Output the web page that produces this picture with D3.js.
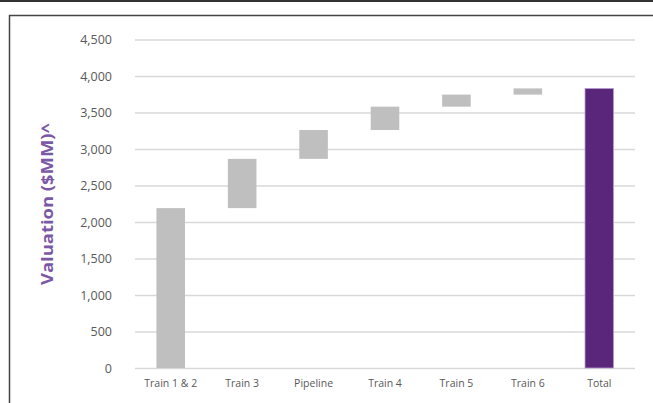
<!DOCTYPE html>
<html>
  <head>
    <title>Valuation waterfall</title>
    <script src="https://cdn.jsdelivr.net/npm/d3@7"></script>
    <style>
      body { margin: 0; background: #fff; }
    </style>
  </head>
  <body>
    <svg width="653" height="403" id="mainsvg"></svg>
    <script>
        // data
        const categories = ['Train 1 & 2', 'Train 3', 'Pipeline', 'Train 4', 'Train 5', 'Train 6', 'Total'];
        const increments = [2190, 675, 395, 320, 165, 85];
        const yTicks = [0, 500, 1000, 1500, 2000, 2500, 3000, 3500, 4000, 4500];

        // running totals -> waterfall steps
        let run = 0;
        const steps = increments.map((v, i) => {
          const s = {name: categories[i], start: run, end: run + v, total: false};
          run += v;
          return s;
        });
        steps.push({name: categories[6], start: 0, end: run, total: true});

        const svg = d3.select('#mainsvg');
        const margin = {top: 39.5, left: 135, right: 18, bottom: 35};
        const innerWidth = 653 - margin.left - margin.right;
        const innerHeight = 368 - margin.top;

        // frame: top rule and chart box
        svg.append('line').attr('x1', 0).attr('x2', 653).attr('y1', 1).attr('y2', 1)
          .attr('stroke', '#333').attr('stroke-width', 2);
        svg.append('path').attr('d', 'M9.5,403 V15.5 H653')
          .attr('fill', 'none').attr('stroke', '#444').attr('stroke-width', 1.5);

        const g = svg.append('g').attr('transform', `translate(${margin.left}, ${margin.top})`);

        const xScale = d3.scaleBand().domain(categories).range([0, innerWidth])
          .paddingInner(0.6).paddingOuter(0.3);
        const yScale = d3.scaleLinear().domain([0, 4500]).range([innerHeight, 0]);

        // grid + y labels
        const yAxis = d3.axisLeft(yScale).tickValues(yTicks).tickSize(-innerWidth)
          .tickPadding(23).tickFormat(d3.format(','));
        const yg = g.append('g').call(yAxis);
        yg.select('.domain').remove();
        yg.selectAll('.tick line').attr('stroke', '#d9d9d9').attr('stroke-width', 1.5);
        yg.selectAll('.tick text').attr('fill', '#595959').attr('font-size', 12.5)
          .attr('font-family', 'Open Sans, sans-serif');

        // bars
        g.selectAll('rect.bar').data(steps).join('rect')
          .attr('class', 'bar')
          .attr('x', d => xScale(d.name))
          .attr('width', xScale.bandwidth())
          .attr('y', d => yScale(d.end))
          .attr('height', d => yScale(d.start) - yScale(d.end))
          .attr('fill', d => d.total ? '#59267c' : '#bfbfbf')
          .attr('stroke', d => d.total ? '#b9a0cc' : 'none')
          .attr('stroke-width', 0.8);

        // x labels
        const xAxis = d3.axisBottom(xScale).tickSize(0).tickPadding(12);
        const xg = g.append('g').attr('transform', `translate(0, ${innerHeight})`).call(xAxis);
        xg.select('.domain').remove();
        xg.selectAll('.tick text').attr('fill', '#595959').attr('font-size', 10.5)
          .attr('font-family', 'Open Sans, sans-serif');

        // y title
        svg.append('text').text('Valuation ($MM)^')
          .attr('transform', 'translate(53, 204) rotate(-90)')
          .attr('text-anchor', 'middle')
          .attr('font-family', 'Open Sans, sans-serif')
          .attr('font-weight', 'bold').attr('font-size', 15.5)
          .attr('textLength', 162).attr('lengthAdjust', 'spacingAndGlyphs')
          .attr('fill', '#7b58a6');
    </script>
  </body>
</html>
